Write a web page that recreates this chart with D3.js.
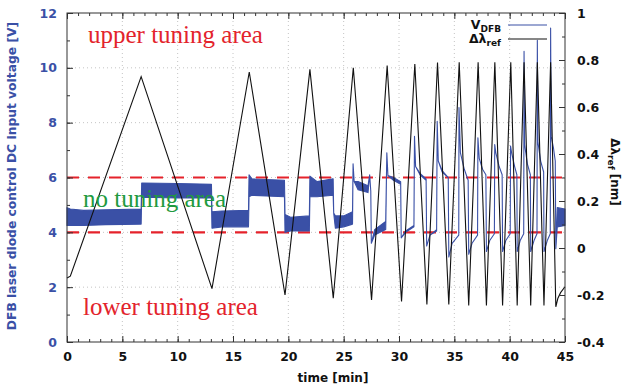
<!DOCTYPE html>
<html>
<head>
<meta charset="utf-8">
<script src="https://cdn.jsdelivr.net/npm/d3@7"></script>
<style>
  body { margin: 0; background: #fff; }
  text { font-family: "DejaVu Sans", sans-serif; }
</style>
</head>
<body>
<script>
var w = 625; // width of SVG space
var h = 390; // height of SVG space

// tick labels
var timeTicks = [0, 5, 10, 15, 20, 25, 30, 35, 40, 45];
var voltTicks = [0, 2, 4, 6, 8, 10, 12];
var lambdaTicks = [-0.4, -0.2, 0, 0.2, 0.4, 0.6, 0.8, 1];

// tuning limits [V]
var limits = [4, 6];

// delta lambda ref [nm]: turning points of the triangle sweep
var refTime = [0, 0.3, 6.7, 13.1, 16.47, 19.7, 21.95, 24.06, 25.87, 27.52, 28.93, 30.23, 31.43, 32.52, 33.48, 34.5,
  35.44, 36.3, 37.15, 37.9, 38.66, 39.36, 40.1, 40.68, 41.3, 41.9, 42.5, 43.1, 43.7, 44.17, 44.35, 44.6, 45];
var refLambda = [-0.128, -0.12, 0.729, -0.173, 0.749, -0.2, 0.76, -0.214, 0.767, -0.221, 0.776, -0.228, 0.783, -0.24, 0.789, -0.24,
  0.79, -0.245, 0.79, -0.245, 0.79, -0.245, 0.79, -0.245, 0.79, -0.245, 0.79, -0.245, 0.79, -0.25, -0.215, -0.19, -0.165];

// V_DFB [V]: noise band lower / upper edge (equal where the trace is clean)
var vTime = [0, 0.3, 1.5, 3.5, 6.7, 6.75, 10, 13.05, 13.1, 14, 16.4, 16.45, 16.7, 19.65, 19.7, 20.2, 21.9, 21.95, 22.6, 24.05,
  24.1, 24.25, 25, 25.8, 25.85, 25.95, 26.3, 27.2, 27.35, 27.45, 27.5, 27.8, 28.8,
  28.9, 29.0, 29.5, 30.15, 30.2, 30.6, 31.35,
  31.4, 31.5, 31.9, 32.45, 32.5, 32.8, 33.4,
  33.45, 33.55, 33.9, 34.45, 34.5, 34.8, 35.4,
  35.42, 35.55, 35.9, 36.25, 36.3, 36.6, 37.1,
  37.13, 37.25, 37.55, 37.85, 37.9, 38.2, 38.62,
  38.65, 38.75, 39.05, 39.32, 39.36, 39.65, 40.05,
  40.08, 40.18, 40.45, 40.65, 40.68, 40.95, 41.27,
  41.3, 41.35, 41.6, 41.87, 41.9, 42.2, 42.47,
  42.5, 42.55, 42.8, 43.07, 43.1, 43.4, 43.67,
  43.7, 43.75, 43.95, 44.12, 44.17, 44.3, 45];
var vLow = [4.25, 4.25, 4.25, 4.28, 4.3, 5.28, 5.25, 5.25, 4.15, 4.2, 4.2, 5.3, 5.35, 5.3, 4.0, 4.05, 4.05, 5.3, 5.3, 5.35,
  4.7, 4.15, 4.2, 4.3, 6.5, 5.85, 5.55, 5.45, 6.1, 5.5, 3.6, 3.9, 4.1,
  6.9, 6.07, 5.9, 5.75, 3.8, 4.0, 4.2,
  7.5, 6.4, 6.1, 5.9, 3.5, 3.9, 4.05,
  8.05, 6.6, 6.2, 6.0, 3.1, 3.6, 3.9,
  8.55, 6.9, 6.3, 5.9, 3.2, 3.6, 3.9,
  7.45, 6.7, 6.3, 6.1, 3.3, 3.7, 3.95,
  7.2, 6.9, 6.4, 6.1, 3.3, 3.7, 3.95,
  7.15, 6.9, 6.4, 6.1, 3.3, 3.7, 3.95,
  10.6, 7.2, 6.5, 6.1, 3.3, 3.7, 3.95,
  11.0, 7.3, 6.6, 6.2, 3.3, 3.7, 3.95,
  11.45, 7.5, 7.1, 6.6, 3.4, 4.2, 4.25];
var vHigh = [4.9, 4.85, 4.8, 4.82, 4.85, 5.8, 5.78, 5.75, 4.75, 4.78, 4.8, 6.1, 5.95, 5.9, 4.65, 4.55, 4.6, 6.05, 5.85, 5.95,
  4.7, 4.6, 4.6, 4.75, 6.5, 5.85, 5.85, 5.7, 6.1, 5.5, 3.6, 4.1, 4.4,
  6.9, 6.07, 6.0, 5.85, 3.8, 4.05, 4.25,
  7.5, 6.4, 6.15, 5.95, 3.5, 3.9, 4.1,
  8.05, 6.6, 6.25, 6.0, 3.1, 3.6, 3.9,
  8.55, 6.9, 6.3, 5.9, 3.2, 3.6, 3.9,
  7.45, 6.7, 6.3, 6.1, 3.3, 3.7, 3.95,
  7.2, 6.9, 6.4, 6.1, 3.3, 3.7, 3.95,
  7.15, 6.9, 6.4, 6.1, 3.3, 3.7, 3.95,
  10.6, 7.2, 6.5, 6.1, 3.3, 3.7, 3.95,
  11.0, 7.3, 6.6, 6.2, 3.3, 3.7, 3.95,
  11.45, 7.5, 7.1, 6.6, 3.4, 4.9, 4.85];

var blue = "#3a50a6";
var pL = 67, pR = 565, pT = 13, pB = 342; // plot frame edges

var svg = d3.select("body").append("svg").attr("width", w).attr("height", h);

var x = d3.scaleLinear().domain([0, 45]).range([pL, pR]);
var yV = d3.scaleLinear().domain([0, 12]).range([pB, pT]);
var yL = d3.scaleLinear().domain([-0.4, 1]).range([pB, pT]);

// dotted grid
var grid = svg.append("g").attr("stroke", "#c4c4c4").attr("stroke-width", 1).attr("stroke-dasharray", "1,3");
grid.selectAll("line.gx").data(timeTicks.slice(1, -1)).enter().append("line")
  .attr("x1", d => x(d)).attr("x2", d => x(d)).attr("y1", pT).attr("y2", pB);
grid.selectAll("line.gy").data(voltTicks.slice(1, -1)).enter().append("line")
  .attr("x1", pL).attr("x2", pR).attr("y1", d => yV(d)).attr("y2", d => yV(d));

// tuning limits
svg.selectAll("line.limit").data(limits).enter().append("line")
  .attr("x1", pL).attr("x2", pR)
  .attr("y1", d => yV(d)).attr("y2", d => yV(d))
  .attr("stroke", "#e5222b").attr("stroke-width", 2.2).attr("stroke-dasharray", "12,9");

// V_DFB trace
var vData = vTime.map((t, i) => ({t: t, lo: vLow[i], hi: vHigh[i]}));
svg.append("path").datum(vData)
  .attr("d", d3.area().x(d => x(d.t)).y0(d => yV(d.lo)).y1(d => yV(d.hi)))
  .attr("fill", blue).attr("stroke", blue).attr("stroke-width", 1.1).attr("stroke-linejoin", "round");

// delta lambda trace
var refData = refTime.map((t, i) => ({t: t, l: refLambda[i]}));
svg.append("path").datum(refData)
  .attr("d", d3.line().x(d => x(d.t)).y(d => yL(d.l)))
  .attr("fill", "none").attr("stroke", "#111").attr("stroke-width", 1.1);

// area labels
function areaLabel(txt, tx, ty, col) {
  svg.append("text").attr("x", tx).attr("y", ty).text(txt)
    .style("font-family", "'Liberation Serif', serif").style("font-size", "25px").attr("fill", col);
}
areaLabel("upper tuning area", 88, 43, "#e3232c");
areaLabel("no tuning area", 83, 207, "#1f9a40");
areaLabel("lower tuning area", 83, 315, "#e3232c");

// frame
svg.append("rect").attr("x", pL).attr("y", pT).attr("width", pR - pL).attr("height", pB - pT)
  .attr("fill", "none").attr("stroke", "#333").attr("stroke-width", 1);

// axes
function styleAxis(g) {
  g.select(".domain").remove();
  g.selectAll(".tick line").attr("stroke", "#333");
  g.selectAll(".tick text").style("font-size", "12.5px").style("font-weight", "bold");
}
svg.append("g").attr("transform", "translate(0," + pB + ")")
  .call(d3.axisBottom(x).tickValues(x.ticks(45)).tickSize(-3).tickFormat("")).call(styleAxis);
svg.append("g").attr("transform", "translate(0," + pB + ")")
  .call(d3.axisBottom(x).tickValues(timeTicks).tickSize(-6).tickPadding(10).tickFormat(d => String(d)))
  .call(styleAxis).selectAll(".tick text").attr("fill", "#111");
svg.append("g").attr("transform", "translate(0," + pT + ")")
  .call(d3.axisTop(x).tickValues(x.ticks(45)).tickSize(-3).tickFormat("")).call(styleAxis);
svg.append("g").attr("transform", "translate(0," + pT + ")")
  .call(d3.axisTop(x).tickValues(timeTicks).tickSize(-6).tickFormat("")).call(styleAxis);

svg.append("g").attr("transform", "translate(" + pL + ",0)")
  .call(d3.axisLeft(yV).tickValues(yV.ticks(12)).tickSize(-3).tickFormat("")).call(styleAxis);
svg.append("g").attr("transform", "translate(" + pL + ",0)")
  .call(d3.axisLeft(yV).tickValues(voltTicks).tickSize(-6).tickPadding(10).tickFormat(d => String(d)))
  .call(styleAxis).selectAll(".tick text").attr("fill", blue);

svg.append("g").attr("transform", "translate(" + pR + ",0)")
  .call(d3.axisRight(yL).tickValues(yL.ticks(14)).tickSize(-3).tickFormat("")).call(styleAxis);
svg.append("g").attr("transform", "translate(" + pR + ",0)")
  .call(d3.axisRight(yL).tickValues(lambdaTicks).tickSize(-6).tickPadding(12).tickFormat(d => String(+d.toFixed(1))))
  .call(styleAxis).selectAll(".tick text").attr("fill", "#111");

// axis titles
svg.append("text").attr("x", (pL + pR) / 2 + 17).attr("y", 382).attr("text-anchor", "middle")
  .style("font-size", "12px").style("font-weight", "bold").attr("fill", "#111").text("time [min]");
svg.append("text").attr("transform", "translate(16,176) rotate(-90)").attr("text-anchor", "middle")
  .style("font-size", "12.3px").style("font-weight", "bold").attr("fill", blue)
  .text("DFB laser diode control DC input voltage [V]");
var rt = svg.append("text").attr("transform", "translate(611,172) rotate(90)").attr("text-anchor", "middle")
  .style("font-size", "12px").style("font-weight", "bold").attr("fill", "#111");
rt.append("tspan").text("Δλ");
rt.append("tspan").attr("dy", 3).style("font-size", "9px").text("ref");
rt.append("tspan").attr("dy", -3).text(" [nm]");

// legend
var legend = [{name: "V", sub: "DFB", color: blue, y: 25}, {name: "Δλ", sub: "ref", color: "#111", y: 39}];
legend.forEach(function (d) {
  var t = svg.append("text").attr("x", 501).attr("y", d.y + 4).attr("text-anchor", "end")
    .style("font-size", "12.5px").style("font-weight", "bold").attr("fill", "#111");
  t.append("tspan").text(d.name);
  t.append("tspan").attr("dy", 3).style("font-size", "9px").text(d.sub);
  svg.append("line").attr("x1", 508).attr("x2", 547).attr("y1", d.y).attr("y2", d.y)
    .attr("stroke", d.color).attr("stroke-width", 1.1);
});
</script>
</body>
</html>
